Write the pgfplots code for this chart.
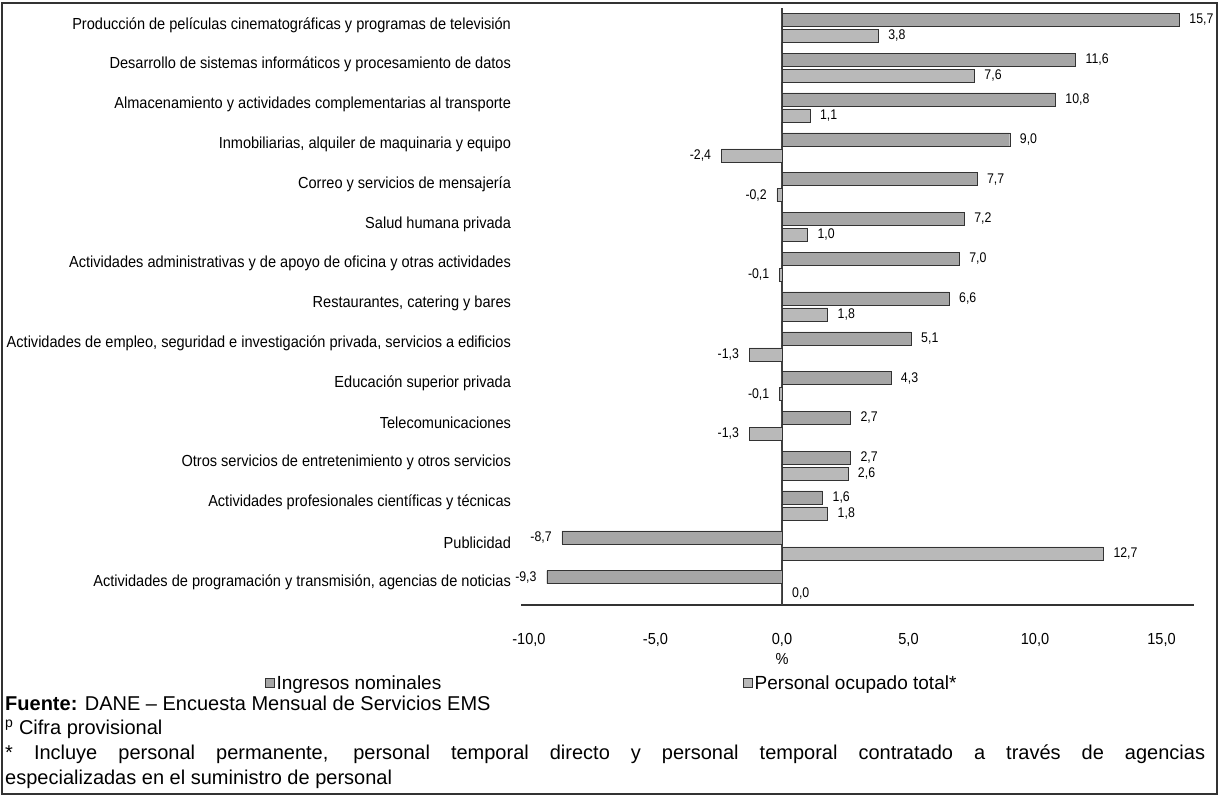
\documentclass[border=0pt]{standalone}
\usepackage{pgfplots}
\pgfplotsset{compat=1.18}
\usepackage{pgfplotstable}
\usepackage{fontspec}
\setmainfont{Liberation Sans}
\newfontfamily\narrowfont{Liberation Sans}[FakeStretch=0.91]
\newfontfamily\narrowerfont{Liberation Sans}[FakeStretch=0.88]

% y: posicion (14 = arriba), ing = Ingresos nominales, per = Personal ocupado total
\pgfplotstableread{
y ing per
14 15.7 3.8
13 11.6 7.6
12 10.8 1.1
11 9.0 -2.4
10 7.7 -0.2
9 7.2 1.0
8 7.0 -0.1
7 6.6 1.8
6 5.1 -1.3
5 4.3 -0.1
4 2.7 -1.3
3 2.7 2.6
2 1.6 1.8
1 -8.7 12.7
0 -9.3 0.0
}\datos

\begin{document}
\begin{tikzpicture}
\draw[line width=1.2pt, black!80] (2pt,11pt) rectangle (1217pt,802pt);
\begin{axis}[
    at={(521.4pt,200pt)}, anchor=south west,
    scale only axis,
    width=673pt, height=597pt,
    xbar, bar width=13pt,
    xmin=-10.3, xmax=16.3,
    ymin=-0.5, ymax=14.5,
    clip=false,
    axis x line*=bottom, axis y line*=left,
    y axis line style={draw=none},
    x axis line style={line width=1.5pt, black!80},
    tick style={draw=none},
    xtick={-10,-5,0,5,10,15},
    ytick={0,...,14},
    yticklabels={
        Actividades de programación y transmisión{,} agencias de noticias,
        Publicidad,
        Actividades profesionales científicas y técnicas,
        Otros servicios de entretenimiento y otros servicios,
        Telecomunicaciones,
        Educación superior privada,
        {Actividades de empleo, seguridad e investigación privada, servicios a edificios},
        {Restaurantes, catering y bares},
        Actividades administrativas y de apoyo de oficina y otras actividades,
        Salud humana privada,
        Correo y servicios de mensajería,
        {Inmobiliarias, alquiler de maquinaria y equipo},
        Almacenamiento y actividades complementarias al transporte,
        Desarrollo de sistemas informáticos y procesamiento de datos,
        Producción de películas cinematográficas y programas de televisión},
    /pgf/number format/fixed,
    /pgf/number format/fixed zerofill,
    /pgf/number format/precision=1,
    /pgf/number format/use comma,
    /pgf/number format/assume math mode=true,
    xticklabel style={font=\narrowfont\fontsize{16}{19}\selectfont, anchor=north, inner sep=0pt, yshift=-28pt},
    yticklabel style={font=\narrowfont\fontsize{16}{19}\selectfont, anchor=east, inner sep=0pt, xshift=-6pt, yshift=3pt},
    extra x ticks={0}, extra x tick labels={},
    extra x tick style={grid=major, major grid style={black!75, line width=1.5pt}},
    xlabel={\%},
    xlabel style={at={(axis description cs:0.3872,0)}, anchor=north, inner sep=0pt, yshift=-48pt, font=\narrowfont\fontsize{16}{19}\selectfont},
    point meta=x,
    nodes near coords,
    nodes near coords style={font=\narrowerfont\fontsize{14}{17}\selectfont, inner xsep=10pt, inner ysep=2pt},
    legend columns=2,
    legend cell align=left,
    legend image code/.code={\draw[#1] (0pt,-4.5pt) rectangle (9pt,4.5pt);},
    legend style={at={(-0.381,-0.1307)}, anchor=west, draw=none, fill=none,
        inner sep=0pt, font=\fontsize{19}{22}\selectfont,
        /tikz/every even column/.append style={column sep=300pt}},
]
\addplot[fill=gray!70, draw=black!80, bar shift=8pt] table[x=ing, y=y] {\datos};
\addlegendentry{Ingresos nominales}
\addplot[fill=gray!55, draw=black!80, bar shift=-8pt] table[x=per, y=y] {\datos};
\addlegendentry{Personal ocupado total*}
\end{axis}

\node[anchor=base west, inner sep=0pt, font=\fontsize{20}{24}\selectfont] at (5pt,94pt)
    {\textbf{Fuente:} DANE – Encuesta Mensual de Servicios EMS};
\node[anchor=base west, inner sep=0pt, font=\fontsize{20}{24}\selectfont] at (5pt,70pt)
    {\textsuperscript{p} Cifra provisional};
\node[anchor=base west, inner sep=0pt, font=\fontsize{20}{24}\selectfont] at (5pt,45pt)
    {\makebox[1200pt][s]{* Incluye personal permanente, personal temporal directo y personal temporal contratado a través de agencias}};
\node[anchor=base west, inner sep=0pt, font=\fontsize{20}{24}\selectfont] at (5pt,20pt)
    {especializadas en el suministro de personal};

\pgfresetboundingbox
\path[use as bounding box] (0pt,0pt) rectangle (1219pt,805pt);
\end{tikzpicture}
\end{document}
